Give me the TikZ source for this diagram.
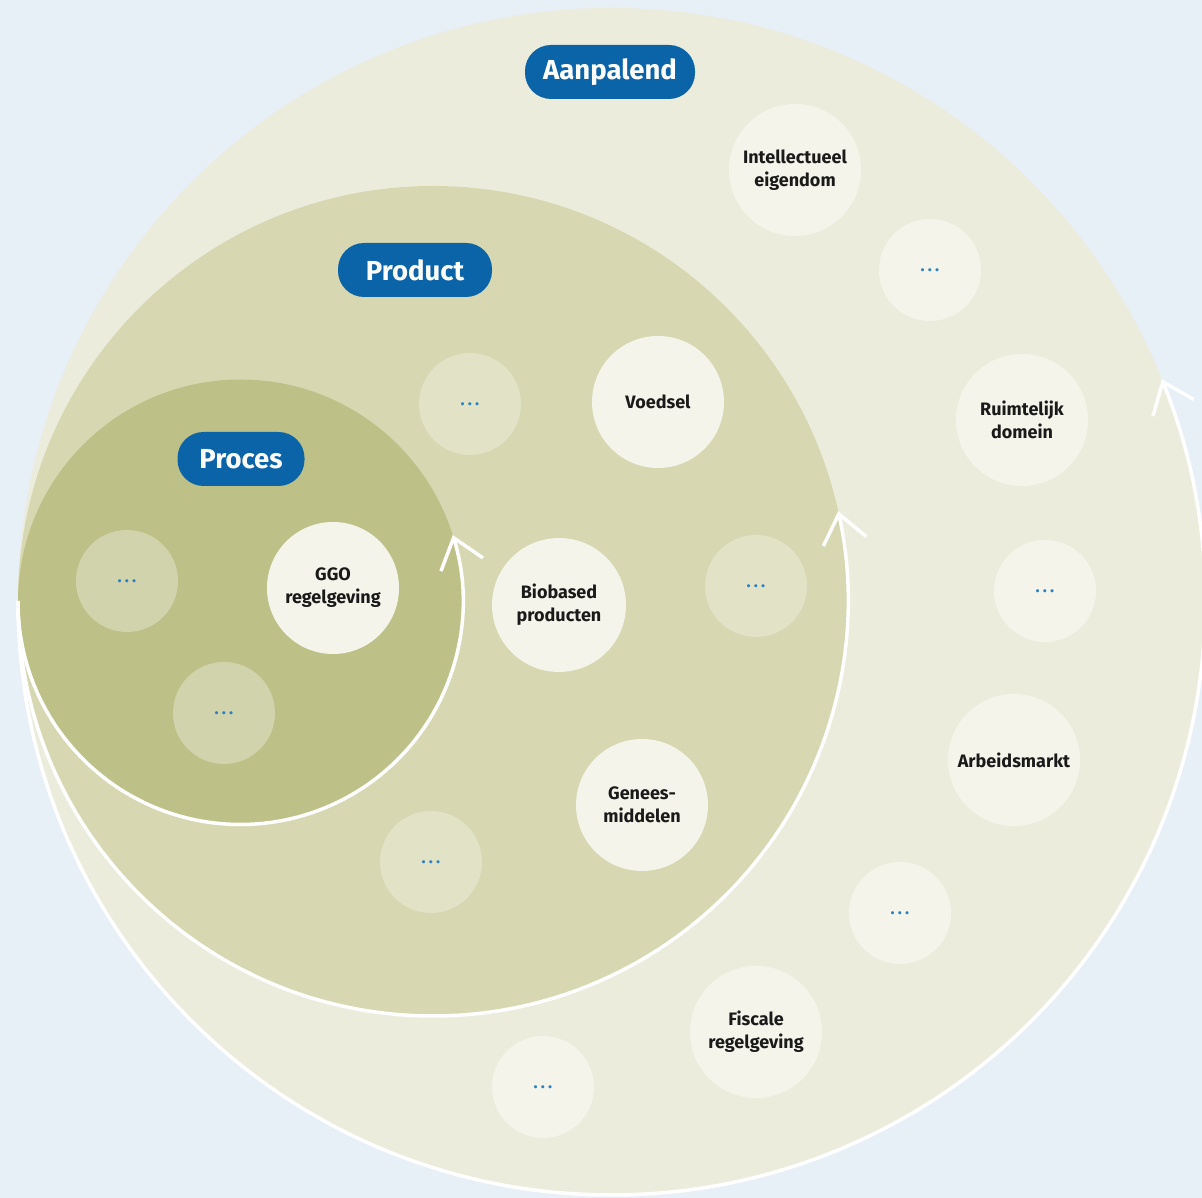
\documentclass[tikz,border=0pt]{standalone}
\usepackage{fontspec}
\setmainfont{Fira Sans}
\usetikzlibrary{arrows.meta}
\definecolor{bgc}{HTML}{E7EFF7}
\definecolor{outerc}{HTML}{ECECDD}
\definecolor{midc}{HTML}{D7D8B1}
\definecolor{innc}{HTML}{BEC187}
\definecolor{namedc}{HTML}{F4F4EA}
\definecolor{dotoutc}{HTML}{F4F4EB}
\definecolor{dotmidc}{HTML}{E1E2C6}
\definecolor{dotinnc}{HTML}{D1D3AC}
\definecolor{pillc}{HTML}{0B63A8}
\definecolor{dotsc}{HTML}{2A80C0}
\definecolor{txtc}{HTML}{1A1A1A}
\newcommand{\mydots}{.\hspace{3.2pt}.\hspace{3.2pt}.}
\tikzset{
  zone/.style={circle, inner sep=0pt, outer sep=0pt, minimum size=#1},
  named/.style={circle, fill=namedc, inner sep=0pt, minimum size=132pt, align=center,
    text=txtc, font=\fontsize{18}{23}\selectfont\bfseries},
  more/.style={circle, fill=#1, inner sep=0pt, minimum size=102pt, text=dotsc,
    font=\fontsize{17}{18}\selectfont\bfseries},
  pill/.style={rounded corners=26pt, fill=pillc, text=white, inner sep=0pt,
    minimum height=54pt, font=\fontsize{27.5}{30}\selectfont\bfseries},
  ringarc/.style={draw=white, line width=3.5pt,
    -{Straight Barb[length=28pt,width=44pt,line width=3.5pt]}},
}
\begin{document}
\begin{tikzpicture}[x=1pt,y=1pt]
\useasboundingbox (0,0) rectangle (1202,1198);
\fill[bgc] (0,0) rectangle (1202,1198);
% zones
\node[zone=1187pt, fill=outerc] (aanp) at (611.5,596.5) {};
\node[zone=830pt, fill=midc] (prod) at (433,597) {};
\node[zone=445pt, fill=innc] (proc) at (240.5,596) {};
% cycle arcs
\draw[ringarc] (aanp.west) arc[start angle=180, end angle=382, radius=593.5pt];
\draw[ringarc] (prod.west) arc[start angle=180, end angle=372.5, radius=415pt];
\draw[ringarc] (proc.west) arc[start angle=180, end angle=377.5, radius=222.5pt];
% pills
\node[pill, minimum width=170pt] (lA) at (610,1126) {Aanpalend};
\node[pill, minimum width=154pt] (lP) at (415,928) {Product};
\node[pill, minimum width=127pt] (lQ) at (241,739) {Proces};
% outer ring
\node[named] (int) at (795,1028) {Intellectueel\\eigendom};
\node[more=dotoutc] (o1) at (930,928) {\mydots};
\node[named] (ruim) at (1022,778) {Ruimtelijk\\domein};
\node[more=dotoutc] (o2) at (1045,607) {\mydots};
\node[named] (arb) at (1014,438) {Arbeidsmarkt};
\node[more=dotoutc] (o3) at (900,285) {\mydots};
\node[named] (fisc) at (756,166) {Fiscale\\regelgeving};
\node[more=dotoutc] (o4) at (543,111) {\mydots};
% middle
\node[more=dotmidc] (m1) at (470,794) {\mydots};
\node[named] (voed) at (658,796) {Voedsel};
\node[named, minimum size=134pt] (bio) at (559,593) {Biobased\\producten};
\node[more=dotmidc] (m2) at (756,612) {\mydots};
\node[named] (gen) at (642,393) {Genees-\\middelen};
\node[more=dotmidc] (m3) at (431,336) {\mydots};
% inner
\node[more=dotinnc] (i1) at (127,617) {\mydots};
\node[named] (ggo) at (333,610) {GGO\\regelgeving};
\node[more=dotinnc] (i2) at (224,485) {\mydots};
\end{tikzpicture}
\end{document}
